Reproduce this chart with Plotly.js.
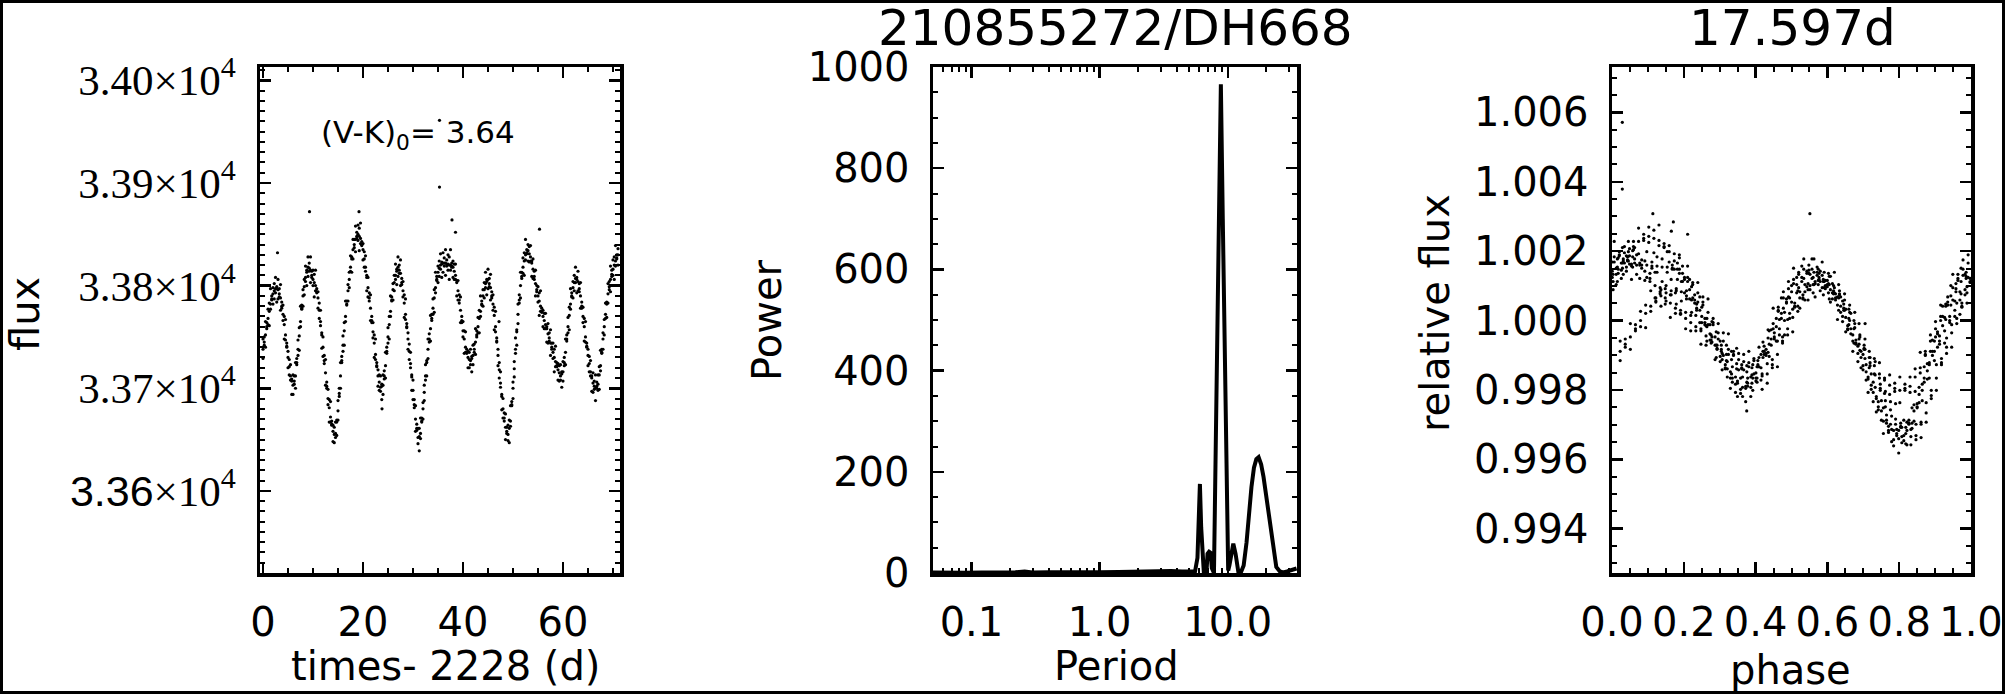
<!DOCTYPE html>
<html>
<head>
<meta charset="utf-8">
<script src="https://cdn.plot.ly/plotly-3.0.1.min.js"></script>
<style>html,body{margin:0;padding:0;background:#fff}#chart{width:2005px;height:694px}</style>
</head>
<body>
<div id="chart"></div>
<script>
// ---------- Panel 1: light curve (times - 2228 d, flux) ----------
const times = [0,0.25,0.5,0.75,1,1.25,1.5,1.75,2,2.25,2.5,2.75,3,3.25,3.5,3.75,4,4.25,4.5,4.75,5,5.25,5.5,5.75,6,6.25,6.5,6.75,7,7.25,7.5,7.75,8,8.25,8.5,8.75,9,9.25,9.5,9.75,10,10.25,10.5,10.75,11,11.25,11.5,11.75,12,12.25,12.5,12.75,13,13.25,13.5,13.75,14,14.25,14.5,14.75,15,15.25,15.5,15.75,16,16.25,16.5,16.75,17,17.25,17.5,17.75,18,18.25,18.5,18.75,19,19.25,19.5,19.75,20,20.25,20.5,20.75,21,21.25,21.5,21.75,22,22.25,22.5,22.75,23,23.25,23.5,23.75,24,24.25,24.5,24.75,25,25.25,25.5,25.75,26,26.25,26.5,26.75,27,27.25,27.5,27.75,28,28.25,28.5,28.75,29,29.25,29.5,29.75,30,30.25,30.5,30.75,31,31.25,31.5,31.75,32,32.25,32.5,32.75,33,33.25,33.5,33.75,34,34.25,34.5,34.75,35,35.25,35.5,35.75,36,36.25,36.5,36.75,37,37.25,37.5,37.75,38,38.25,38.5,38.75,39,39.25,39.5,39.75,40,40.25,40.5,40.75,41,41.25,41.5,41.75,42,42.25,42.5,42.75,43,43.25,43.5,43.75,44,44.25,44.5,44.75,45,45.25,45.5,45.75,46,46.25,46.5,46.75,47,47.25,47.5,47.75,48,48.25,48.5,48.75,49,49.25,49.5,49.75,50,50.25,50.5,50.75,51,51.25,51.5,51.75,52,52.25,52.5,52.75,53,53.25,53.5,53.75,54,54.25,54.5,54.75,55,55.25,55.5,55.75,56,56.25,56.5,56.75,57,57.25,57.5,57.75,58,58.25,58.5,58.75,59,59.25,59.5,59.75,60,60.25,60.5,60.75,61,61.25,61.5,61.75,62,62.25,62.5,62.75,63,63.25,63.5,63.75,64,64.25,64.5,64.75,65,65.25,65.5,65.75,66,66.25,66.5,66.75,67,67.25,67.5,67.75,68,68.25,68.5,68.75,69,69.25,69.5,69.75,70,70.25,70.5,70.75,71];

const fluxUpper = [33748,33742,33765,33764,33762,33783,33797,33786,33798,33787,33808,33799,33806,33789,33801,33784,33766,33770,33767,33740,33736,33713,33723,33709,33713,33704,33725,33729,33732,33759,33780,33777,33796,33791,33819,33815,33828,33814,33828,33814,33800,33811,33815,33793,33794,33768,33776,33754,33750,33724,33728,33706,33684,33689,33687,33664,33664,33647,33667,33669,33688,33692,33725,33731,33736,33764,33785,33781,33801,33798,33829,33828,33845,33837,33858,33852,33844,33856,33861,33839,33841,33818,33829,33810,33808,33785,33791,33770,33749,33752,33748,33721,33718,33698,33712,33704,33713,33709,33735,33740,33744,33770,33790,33785,33802,33795,33821,33816,33828,33812,33825,33807,33789,33791,33787,33759,33754,33728,33735,33713,33708,33681,33683,33665,33646,33661,33671,33667,33686,33688,33723,33727,33748,33745,33771,33772,33772,33796,33813,33805,33819,33809,33831,33823,33832,33819,33835,33825,33815,33828,33835,33818,33824,33806,33821,33805,33805,33783,33789,33770,33750,33756,33755,33734,33736,33720,33738,33731,33742,33735,33758,33756,33754,33776,33790,33781,33796,33788,33813,33806,33816,33799,33811,33794,33776,33779,33775,33745,33738,33710,33716,33694,33690,33668,33675,33662,33649,33669,33683,33683,33706,33711,33749,33757,33782,33783,33813,33813,33812,33832,33845,33831,33840,33823,33839,33824,33826,33806,33815,33800,33784,33793,33795,33774,33776,33758,33773,33760,33763,33746,33757,33744,33729,33738,33741,33721,33724,33707,33723,33716,33726,33722,33748,33752,33754,33779,33797,33789,33804,33795,33818,33808,33814,33794,33803,33784,33764,33768,33765,33740,33738,33716,33727,33712,33715,33699,33713,33706,33698,33721,33737,33734,33754,33752,33783,33784,33802,33796,33819,33815,33810,33828,33839,33826,33836];

const fluxMiddle = [33738,33745,33752,33760,33768,33775,33782,33787,33792,33795,33797,33797,33796,33792,33788,33780,33772,33762,33752,33741,33730,33721,33712,33707,33703,33707,33712,33725,33738,33751,33765,33778,33790,33799,33808,33813,33818,33817,33815,33810,33806,33803,33800,33794,33788,33776,33765,33752,33740,33727,33715,33702,33690,33681,33672,33665,33658,33655,33656,33667,33678,33695,33712,33727,33742,33756,33770,33782,33795,33806,33818,33826,33835,33840,33845,33848,33850,33848,33846,33840,33835,33826,33818,33808,33798,33788,33778,33766,33755,33744,33733,33722,33712,33706,33701,33702,33703,33712,33722,33736,33750,33762,33775,33786,33796,33803,33810,33814,33818,33815,33812,33803,33795,33783,33772,33760,33748,33736,33724,33711,33698,33684,33670,33661,33652,33653,33656,33668,33680,33696,33712,33725,33738,33748,33758,33768,33778,33788,33798,33806,33813,33817,33820,33821,33822,33822,33822,33821,33821,33820,33820,33819,33818,33814,33810,33803,33795,33786,33776,33766,33756,33748,33740,33735,33730,33728,33727,33729,33732,33738,33745,33752,33760,33768,33775,33782,33790,33796,33802,33804,33806,33802,33798,33790,33782,33771,33760,33746,33732,33718,33705,33692,33680,33671,33662,33658,33655,33661,33668,33684,33700,33719,33738,33755,33772,33786,33800,33809,33818,33824,33830,33832,33834,33831,33828,33822,33816,33809,33802,33796,33790,33785,33780,33775,33770,33766,33762,33758,33753,33749,33744,33740,33735,33730,33726,33722,33718,33715,33712,33714,33716,33725,33735,33748,33760,33771,33782,33790,33798,33803,33807,33806,33804,33797,33790,33780,33770,33760,33750,33741,33732,33724,33716,33710,33705,33702,33700,33702,33704,33713,33722,33735,33748,33760,33772,33782,33792,33799,33806,33811,33816,33820,33824,33827,33830];

const fluxLower = [33729,33750,33740,33758,33777,33761,33777,33790,33782,33802,33793,33784,33787,33797,33776,33778,33781,33748,33747,33744,33720,33728,33708,33694,33694,33712,33700,33723,33747,33737,33760,33781,33780,33806,33804,33800,33809,33822,33803,33808,33815,33789,33795,33797,33778,33783,33761,33739,33731,33732,33703,33700,33699,33667,33667,33668,33648,33662,33652,33654,33669,33700,33700,33725,33751,33742,33765,33785,33785,33813,33814,33813,33826,33845,33833,33846,33859,33834,33841,33843,33825,33833,33814,33795,33789,33793,33766,33764,33764,33730,33728,33725,33702,33713,33697,33689,33694,33717,33710,33734,33759,33748,33770,33789,33786,33810,33806,33801,33809,33820,33800,33801,33804,33769,33767,33763,33738,33743,33720,33698,33689,33689,33658,33659,33661,33639,33651,33671,33670,33703,33708,33712,33729,33753,33746,33766,33787,33774,33793,33809,33803,33824,33816,33808,33813,33827,33810,33819,33830,33806,33815,33822,33808,33821,33806,33790,33786,33791,33764,33764,33765,33734,33735,33738,33720,33735,33723,33716,33723,33743,33733,33750,33769,33754,33770,33785,33780,33803,33798,33791,33797,33807,33786,33788,33791,33757,33755,33749,33722,33725,33701,33679,33671,33676,33650,33656,33664,33647,33663,33687,33690,33726,33734,33742,33763,33791,33788,33807,33827,33810,33825,33835,33824,33838,33824,33809,33807,33814,33790,33794,33799,33771,33775,33778,33760,33773,33758,33745,33744,33754,33732,33738,33744,33716,33721,33725,33708,33722,33708,33701,33707,33730,33723,33746,33769,33757,33777,33793,33788,33810,33803,33793,33795,33802,33778,33778,33779,33746,33745,33744,33722,33731,33712,33697,33696,33707,33688,33700,33713,33699,33717,33738,33738,33767,33768,33769,33783,33804,33794,33809,33825,33806,33819,33830,33820];

const outlierTimes = [2.9, 9.3, 19.2, 23.8, 35.3, 35.3, 37.8, 38.5, 55.3, 47.2];
const outlierFlux  = [33832, 33872, 33872, 33680, 33961, 33896, 33864, 33852, 33855, 33765];

const fluxTickVals = [33600, 33700, 33800, 33900, 34000];
const fluxTickText = ['<span style="font-family:Liberation Sans">3.36</span>×10<sup>4</sup>', '3.37×10<sup>4</sup>', '3.38×10<sup>4</sup>', '3.39×10<sup>4</sup>', '3.40×10<sup>4</sup>'];
const timeTickVals = [0, 20, 40, 60];

// ---------- Panel 2: periodogram ----------
const periods = [0.049,0.06,0.075,0.09,0.12,0.16,0.22,0.26,0.3,0.4,0.55,0.75,1.0,1.4,2.0,2.8,3.6,4.4,5.0,5.55,5.8,5.95,6.06,6.2,6.35,6.5,6.7,6.85,6.95,7.15,7.35,7.5,7.8,8.06,8.36,8.67,8.83,9.14,9.48,9.82,10.07,10.3,10.7,11.04,11.5,12.09,12.6,13.3,14.0,14.6,15.3,16.0,16.7,17.4,18.2,19.0,20.0,20.9,21.8,22.8,23.9,25.5,27.0,29.0,32.0,34.4];
const powers = [1,0.5,1,0.5,1,0.8,1.5,3,1,1.5,1,2,1.5,2,3,2,4,3,4,3,30,110,176,90,20,2,0,10,38,42,40,10,0,260,550,830,966,700,380,110,5,15,45,58,38,2,0,15,60,115,170,208,225,229,215,190,150,115,75,38,12,3,1,3,7,9];
const periodTickVals = [0.1, 1, 10];
const periodTickText = ['0.1', '1.0', '10.0'];
const periodMinorVals = [0.05,0.06,0.07,0.08,0.09,0.2,0.3,0.4,0.5,0.6,0.7,0.8,0.9,2,3,4,5,6,7,8,9,20,30];
const powerTickVals = [0, 200, 400, 600, 800, 1000];

// ---------- Panel 3: phased light curve ----------
const foldPeriod = 17.597;
const foldEpoch = -0.4;
const phaseTickVals = [0, 0.2, 0.4, 0.6, 0.8, 1.0];
const phaseTickText = ['0.0', '0.2', '0.4', '0.6', '0.8', '1.0'];
const relTickVals = [0.994, 0.996, 0.998, 1.000, 1.002, 1.004, 1.006];
const relTickText = ['0.994', '0.996', '0.998', '1.000', '1.002', '1.004', '1.006'];

const mainTitle = '210855272/DH668';
const periodTitle = '17.597d';
const colourLabel = '(V-K)<sub>0</sub>= 3.64';

// ---------- build ----------
const lcT = [], lcF = [];
[fluxUpper, fluxMiddle, fluxLower].forEach(arr => {
  const n = Math.min(arr.length, times.length);
  for (let i = 0; i < n; i++) { lcT.push(times[i]); lcF.push(arr[i]); }
});
for (let i = 0; i < outlierTimes.length; i++) { lcT.push(outlierTimes[i]); lcF.push(outlierFlux[i]); }
const sorted = lcF.slice().sort((a, b) => a - b);
const med = sorted.length % 2 ? sorted[(sorted.length - 1) / 2] : (sorted[sorted.length / 2 - 1] + sorted[sorted.length / 2]) / 2;
const phase = lcT.map(t => { let p = ((t - foldEpoch) / foldPeriod) % 1; return p < 0 ? p + 1 : p; });
const rel = lcF.map(f => f / med);

const SANS = 'DejaVu Sans';
const tf = {family: SANS, size: 40, color: 'black'};

function ax(extra) {
  return Object.assign({
    showline: true, linewidth: 3.5, linecolor: 'black', mirror: 'allticks',
    ticks: 'inside', ticklen: 11, tickwidth: 2.5, tickcolor: 'black',
    showgrid: false, zeroline: false, tickfont: tf, fixedrange: true
  }, extra);
}

const traces = [
  {x: lcT, y: lcF, type: 'scatter', mode: 'markers', marker: {size: 3.2, color: 'black'}, xaxis: 'x', yaxis: 'y', hoverinfo: 'skip'},
  {x: periods, y: powers, type: 'scatter', mode: 'lines', line: {color: 'black', width: 4}, xaxis: 'x2', yaxis: 'y2', hoverinfo: 'skip'},
  {x: phase, y: rel, type: 'scatter', mode: 'markers', marker: {size: 3.2, color: 'black'}, xaxis: 'x3', yaxis: 'y3', hoverinfo: 'skip'}
];

const W = 2005, H = 694;
const px = v => v / W, py = v => 1 - v / H;

const layout = {
  width: W, height: H, margin: {l: 0, r: 0, t: 0, b: 0},
  paper_bgcolor: 'white', plot_bgcolor: 'white', showlegend: false,
  font: {family: SANS, color: 'black'},
  xaxis: ax({domain: [px(260), px(620)], anchor: 'y', range: [-0.6, 71.4], tickmode: 'array', tickvals: timeTickVals,
    ticklabelstandoff: 11, minor: {tickmode: 'linear', tick0: 0, dtick: 5, ticks: 'inside', ticklen: 5, tickwidth: 2, tickcolor: 'black'}}),
  yaxis: ax({domain: [py(573), py(67)], anchor: 'x', range: [33520, 34013], tickmode: 'array', tickvals: fluxTickVals, ticktext: fluxTickText,
    tickfont: {family: 'Liberation Serif', size: 43, color: 'black'}, ticklabelstandoff: 12,
    minor: {tickmode: 'linear', tick0: 33600, dtick: 10, ticks: 'inside', ticklen: 5, tickwidth: 2, tickcolor: 'black'}}),
  xaxis2: ax({domain: [px(933), px(1297)], anchor: 'y2', type: 'log', range: [-1.30, 1.54], tickmode: 'array', tickvals: periodTickVals, ticktext: periodTickText,
    ticklabelstandoff: 11, minor: {tickmode: 'array', tickvals: periodMinorVals, ticks: 'inside', ticklen: 5, tickwidth: 2, tickcolor: 'black'}}),
  yaxis2: ax({domain: [py(573), py(67)], anchor: 'x2', range: [0, 1000], tickmode: 'array', tickvals: powerTickVals, ticklabelstandoff: 12,
    minor: {tickmode: 'linear', tick0: 0, dtick: 50, ticks: 'inside', ticklen: 5, tickwidth: 2, tickcolor: 'black'}}),
  xaxis3: ax({domain: [px(1612), px(1971)], anchor: 'y3', range: [0, 1], tickmode: 'array', tickvals: phaseTickVals, ticktext: phaseTickText,
    ticklabelstandoff: 11, minor: {tickmode: 'linear', tick0: 0, dtick: 0.05, ticks: 'inside', ticklen: 5, tickwidth: 2, tickcolor: 'black'}}),
  yaxis3: ax({domain: [py(573), py(67)], anchor: 'x3', range: [0.99272, 1.00731], tickmode: 'array', tickvals: relTickVals, ticktext: relTickText, ticklabelstandoff: 12,
    minor: {tickmode: 'linear', tick0: 0.994, dtick: 0.0005, ticks: 'inside', ticklen: 5, tickwidth: 2, tickcolor: 'black'}}),
  shapes: [
    {type: 'rect', xref: 'paper', yref: 'paper', x0: 0, x1: 1, y0: 0, y1: 1, line: {color: 'black', width: 6}, fillcolor: 'rgba(0,0,0,0)', layer: 'above'}
  ],
  annotations: [
    {text: mainTitle, xref: 'paper', yref: 'paper', x: px(1115), y: py(28), xanchor: 'center', yanchor: 'middle', showarrow: false, font: {family: SANS, size: 50, color: 'black'}},
    {text: periodTitle, xref: 'paper', yref: 'paper', x: px(1792), y: py(28), xanchor: 'center', yanchor: 'middle', showarrow: false, font: {family: SANS, size: 50, color: 'black'}},
    {text: colourLabel, xref: 'paper', yref: 'paper', x: px(418), y: py(134), xanchor: 'center', yanchor: 'middle', showarrow: false, font: {family: SANS, size: 31, color: 'black'}},
    {text: 'flux', xref: 'paper', yref: 'paper', x: px(25), y: py(314), xanchor: 'center', yanchor: 'middle', textangle: -90, showarrow: false, font: {family: SANS, size: 40, color: 'black'}},
    {text: 'Power', xref: 'paper', yref: 'paper', x: px(767), y: py(321), xanchor: 'center', yanchor: 'middle', textangle: -90, showarrow: false, font: {family: SANS, size: 40, color: 'black'}},
    {text: 'relative flux', xref: 'paper', yref: 'paper', x: px(1435), y: py(313), xanchor: 'center', yanchor: 'middle', textangle: -90, showarrow: false, font: {family: SANS, size: 40, color: 'black'}},
    {text: 'times- 2228 (d)', xref: 'paper', yref: 'paper', x: px(445), y: py(666), xanchor: 'center', yanchor: 'middle', showarrow: false, font: {family: SANS, size: 40, color: 'black'}},
    {text: 'Period', xref: 'paper', yref: 'paper', x: px(1116), y: py(666), xanchor: 'center', yanchor: 'middle', showarrow: false, font: {family: SANS, size: 40, color: 'black'}},
    {text: 'phase', xref: 'paper', yref: 'paper', x: px(1790), y: py(670), xanchor: 'center', yanchor: 'middle', showarrow: false, font: {family: SANS, size: 40, color: 'black'}}
  ]
};

Plotly.newPlot('chart', traces, layout, {staticPlot: true, displayModeBar: false});
</script>
</body>
</html>
